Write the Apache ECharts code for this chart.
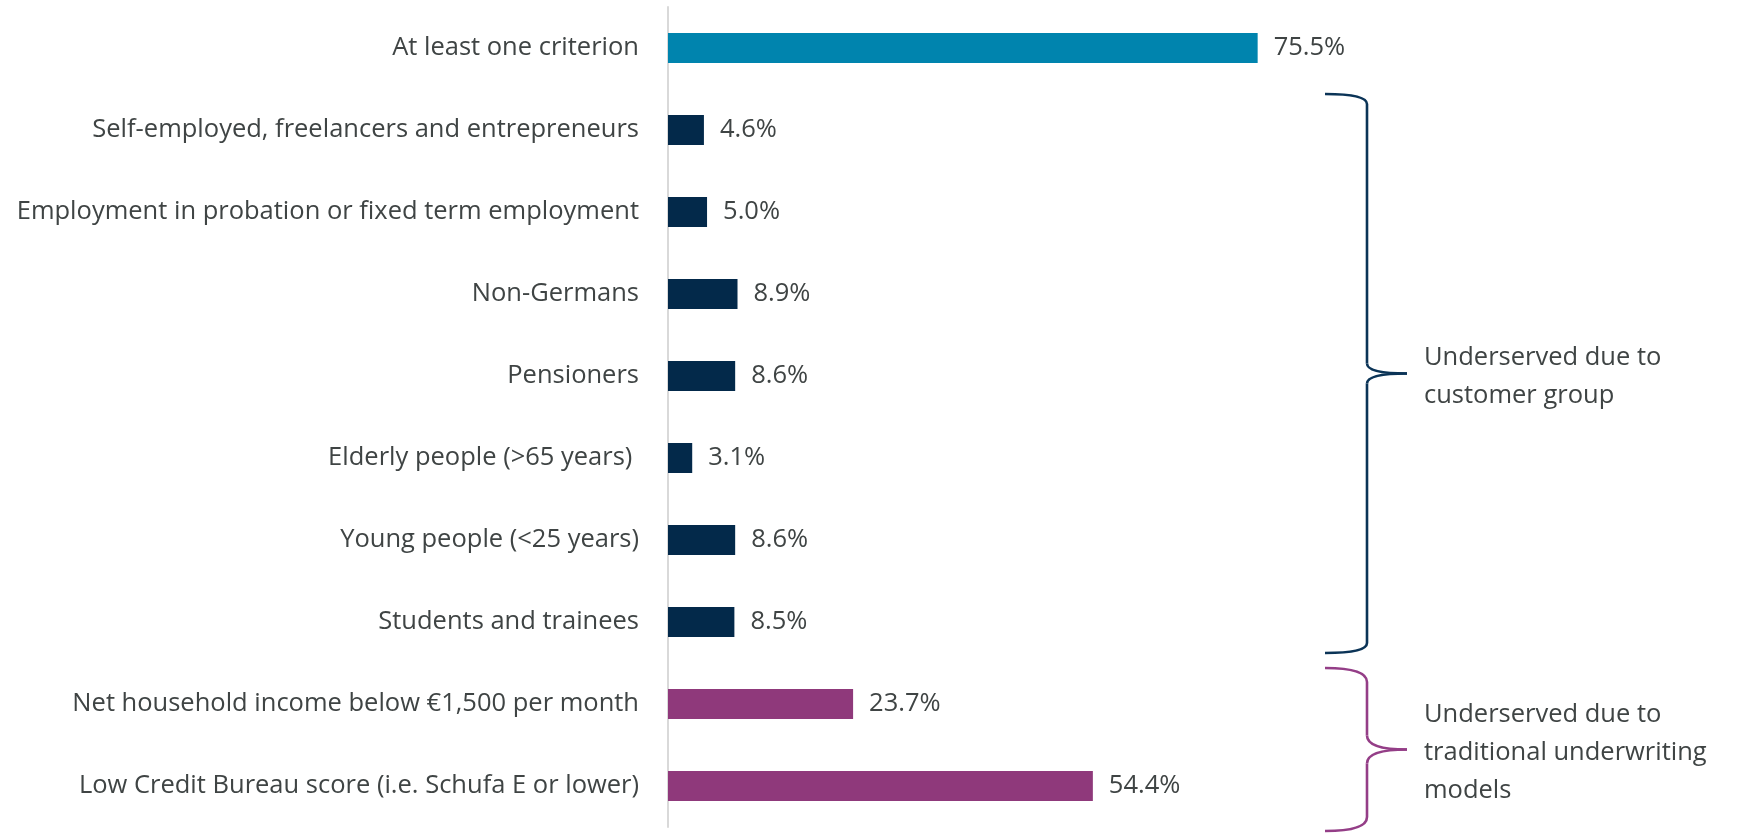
<!DOCTYPE html>
<html>
<head>
<meta charset="utf-8">
<script src="https://cdn.jsdelivr.net/npm/echarts@6/dist/echarts.min.js"></script>
<style>
html,body{margin:0;padding:0;background:#fff;}
#chart{width:1739px;height:833px;}
</style>
</head>
<body>
<div id="chart"></div>
<script>
var categories = [
  "At least one criterion",
  "Self-employed, freelancers and entrepreneurs",
  "Employment in probation or fixed term employment",
  "Non-Germans",
  "Pensioners",
  "Elderly people (>65 years) ",
  "Young people (<25 years)",
  "Students and trainees",
  "Net household income below \u20ac1,500 per month",
  "Low Credit Bureau score (i.e. Schufa E or lower)"
];
var values = [75.5, 4.6, 5.0, 8.9, 8.6, 3.1, 8.6, 8.5, 23.7, 54.4];
var groups = ["total", "customer", "customer", "customer", "customer", "customer", "customer", "customer", "underwriting", "underwriting"];
var braceGroups = [
  {name: "customer", text: "Underserved due to\ncustomer group"},
  {name: "underwriting", text: "Underserved due to\ntraditional underwriting\nmodels"}
];

var colors = {total: "#0084ae", customer: "#03294a", underwriting: "#8f397b"};
var braceColors = {customer: "#0b3457", underwriting: "#943e87"};
var textColor = "#3f4444";
var fontFamily = "'Open Sans', sans-serif";
var fontSize = 25.5;

var chart = echarts.init(document.getElementById('chart'));
chart.setOption({
  animation: false,
  grid: {left: 668, top: 7, height: 820, width: 781, containLabel: false},
  xAxis: {
    type: 'value', min: 0, max: 100,
    axisLine: {show: false}, axisTick: {show: false},
    axisLabel: {show: false}, splitLine: {show: false}
  },
  yAxis: {
    type: 'category', inverse: true, data: categories,
    axisLine: {show: true, lineStyle: {color: '#d9d9d9', width: 2}},
    axisTick: {show: false},
    axisLabel: {color: textColor, fontSize: fontSize, fontFamily: fontFamily, margin: 29}
  },
  series: [{
    type: 'bar',
    barWidth: 30,
    data: values.map(function (v, i) {
      return {value: v, itemStyle: {color: colors[groups[i]]}};
    }),
    label: {
      show: true, position: 'right', distance: 16,
      color: textColor, fontSize: fontSize, fontFamily: fontFamily,
      formatter: function (p) { return p.value.toFixed(1) + '%'; }
    }
  }]
});

function braceParts(x0, xs, xt, top, bot, r, color) {
  var mid = (top + bot) / 2;
  var st = {stroke: color, lineWidth: 2.6, fill: null};
  function curve(x1, y1, cx, cy, x2, y2) {
    return {type: 'bezierCurve', shape: {x1: x1, y1: y1, cpx1: cx, cpy1: cy, x2: x2, y2: y2}, style: st};
  }
  function line(x1, y1, x2, y2) {
    return {type: 'line', shape: {x1: x1, y1: y1, x2: x2, y2: y2}, style: st};
  }
  return [
    curve(x0, top, xs, top, xs, top + r),
    line(xs, top + r, xs, mid - r),
    curve(xs, mid - r, xs, mid, xt, mid),
    curve(xt, mid, xs, mid, xs, mid + r),
    line(xs, mid + r, xs, bot - r),
    curve(xs, bot - r, xs, bot, x0, bot)
  ];
}

var graphics = [];
braceGroups.forEach(function (g) {
  var idx = [];
  groups.forEach(function (gr, i) { if (gr === g.name) idx.push(i); });
  var yFirst = chart.convertToPixel({yAxisIndex: 0}, categories[idx[0]]);
  var yLast = chart.convertToPixel({yAxisIndex: 0}, categories[idx[idx.length - 1]]);
  var top = yFirst - 36;
  var bot = g.name === 'customer' ? yLast + 31 : yLast + 45;
  var r = g.name === 'customer' ? 10 : 14;
  graphics = graphics.concat(braceParts(1325, 1367, 1407, top, bot, r, braceColors[g.name]));
  graphics.push({
    type: 'text',
    x: 1424, y: (top + bot) / 2 + 3,
    style: {
      text: g.text, fill: textColor, font: fontSize + 'px ' + fontFamily,
      lineHeight: 38, verticalAlign: 'middle', align: 'left'
    }
  });
});
chart.setOption({graphic: graphics});
</script>
</body>
</html>
